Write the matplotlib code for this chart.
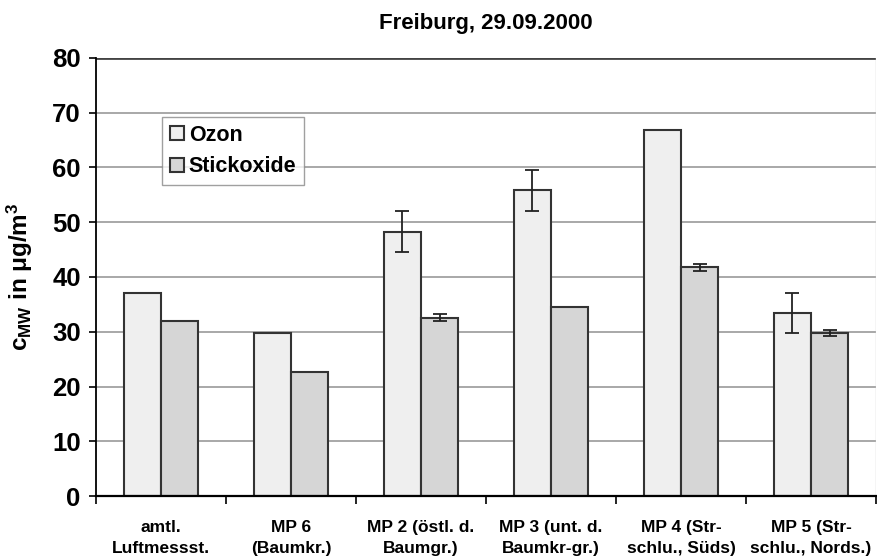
import numpy as np
import matplotlib
matplotlib.use("Agg")
import matplotlib.pyplot as plt

plt.rcParams['font.family'] = ['Liberation Sans Narrow', 'Liberation Sans', 'DejaVu Sans']
plt.rcParams['font.weight'] = 'bold'
plt.rcParams['axes.titleweight'] = 'bold'
plt.rcParams['axes.labelweight'] = 'bold'
plt.rcParams['mathtext.default'] = 'regular'

categories = ['amtl.\nLuftmessst.', 'MP 6\n(Baumkr.)', 'MP 2 (östl. d.\nBaumgr.)',
              'MP 3 (unt. d.\nBaumkr-gr.)', 'MP 4 (Str-\nschlu., Süds)', 'MP 5 (Str-\nschlu., Nords.)']
ozon = [37.1, 29.8, 48.3, 55.8, 66.9, 33.4]
ozon_err = [0, 0, 3.7, 3.75, 0, 3.7]
stickoxide = [31.9, 22.6, 32.6, 34.6, 41.8, 29.8]
stickoxide_err = [0, 0, 0.65, 0, 0.65, 0.6]

fig = plt.figure(figsize=(8.77, 5.6), dpi=100)
ax = fig.add_axes([96/877, 1 - 496/560, 780/877, 438/560])

x = np.arange(len(categories))
w = 0.286
ax.set_axisbelow(True)
ax.yaxis.grid(True, color='#9a9a9a', linewidth=1.2)

ekw = dict(ecolor='#222222', elinewidth=1.3, capsize=5, capthick=1.3)
oz_mask = np.array(ozon_err) > 0
st_mask = np.array(stickoxide_err) > 0

ax.bar(x - w/2, ozon, w, color='#efefef', edgecolor='#333333', linewidth=1.5, label='Ozon', zorder=2)
ax.bar(x + w/2, stickoxide, w, color='#d6d6d6', edgecolor='#333333', linewidth=1.5, label='Stickoxide', zorder=2)
ax.errorbar((x - w/2)[oz_mask], np.array(ozon)[oz_mask], yerr=np.array(ozon_err)[oz_mask],
            fmt='none', zorder=3, **ekw)
ax.errorbar((x + w/2)[st_mask], np.array(stickoxide)[st_mask], yerr=np.array(stickoxide_err)[st_mask],
            fmt='none', zorder=3, **ekw)

ax.set_xlim(-0.5, len(categories) - 0.5)
ax.set_ylim(0, 80)
ax.set_yticks(np.arange(0, 81, 10))
ax.tick_params(axis='y', labelsize=18.5, length=5, width=1.2, direction='out', pad=6)

ax.set_xticks(x)
ax.set_xticklabels(categories, fontsize=12.5, linespacing=1.5)
ax.tick_params(axis='x', length=0, pad=17)
ax.set_xticks(np.arange(-0.5, len(categories)), minor=True)
ax.tick_params(axis='x', which='minor', length=6, width=1.2, direction='out')

for s in ['top', 'right']:
    ax.spines[s].set_visible(False)
ax.spines['left'].set_linewidth(1.3)
ax.spines['bottom'].set_linewidth(1.6)
ax.axhline(80, color='#444444', linewidth=2, zorder=1)
ax.axvline(len(categories) - 0.5, color='#cccccc', linewidth=1.0, zorder=1)

ax.set_ylabel(r'c$_{\mathregular{MW}}$ in $\mathregular{\mu}$g/m$^{\mathregular{3}}$', fontsize=17.5, labelpad=12)
ax.set_title('Freiburg, 29.09.2000', fontsize=16, pad=21)

leg = ax.legend(loc='upper left', bbox_to_anchor=(66/780, 1 - 59/438), fontsize=15.5,
                frameon=True, fancybox=False, edgecolor='#888888', borderpad=0.35,
                handlelength=0.65, handleheight=0.65, handletextpad=0.25, labelspacing=0.5,
                borderaxespad=0)
leg.get_frame().set_linewidth(1.0)

fig.savefig('out.png', dpi=100)
